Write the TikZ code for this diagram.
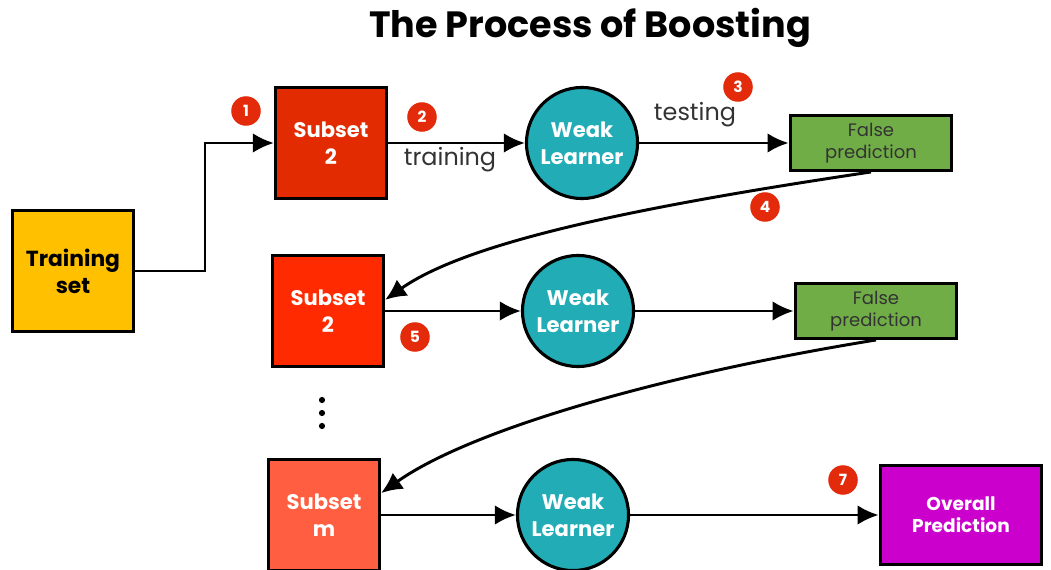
\documentclass[tikz,border=0pt]{standalone}
\usepackage{fontspec}
\setmainfont{Poppins}
\usetikzlibrary{arrows.meta}

\definecolor{setyellow}{HTML}{FFC000}
\definecolor{subred}{HTML}{E22B00}
\definecolor{subbright}{HTML}{FF2A00}
\definecolor{subsalmon}{HTML}{FF5F40}
\definecolor{learnteal}{HTML}{22ACB6}
\definecolor{predgreen}{HTML}{70AD47}
\definecolor{overmagenta}{HTML}{CC00CC}
\definecolor{badgered}{HTML}{E32B0B}

\begin{document}
\begin{tikzpicture}[x=0.025cm,y=-0.025cm,->,>={Latex[length=15pt,width=14pt]},line width=2.1pt,
  box/.style={draw,-,line width=2.2pt,minimum width=79pt,minimum height=79pt,inner sep=0pt,align=center,text=white,font=\bfseries\fontsize{15}{19}\selectfont},
  learner/.style={circle,draw,-,line width=2.2pt,fill=learnteal,minimum size=79pt,inner sep=0pt,align=center,text=white,font=\bfseries\fontsize{15}{19}\selectfont},
  pred/.style={draw,-,line width=2.2pt,fill=predgreen,minimum width=115pt,minimum height=39pt,inner sep=0pt,align=center,text=black!80,font=\fontsize{12.8}{15.5}\selectfont},
  badge/.style={circle,fill=badgered,minimum size=21pt,inner sep=0pt,text=white,font=\bfseries\fontsize{11}{11}\selectfont},
  lbl/.style={text=black!80,font=\fontsize{17}{19}\selectfont}]

\useasboundingbox (0,0) rectangle (1051,570);

\node (title) at (590,28) {\bfseries\fontsize{26}{30}\selectfont The Process of Boosting};

\node [box,fill=setyellow,text=black,minimum width=86pt,minimum height=86pt,font=\bfseries\fontsize{15.5}{19}\selectfont] (train) at (73,271) {Training\\set};

\node [box,fill=subred] (sub1) at (331,143) {Subset\\2};
\node [learner] (wl1) at (582,143) {Weak\\Learner};
\node [pred] (fp1) at (871,143) {False\\prediction};

\node [box,fill=subbright] (sub2) at (328,311) {Subset\\2};
\node [learner] (wl2) at (578,311) {Weak\\Learner};
\node [pred] (fp2) at (876,311) {False\\prediction};

\node [box,fill=subsalmon] (subm) at (324,515) {Subset\\m};
\node [learner] (wl3) at (573,515) {Weak\\Learner};
\node [box,fill=overmagenta,minimum width=115pt,minimum height=71pt,font=\bfseries\fontsize{13.2}{15.5}\selectfont] (over) at (961,515) {Overall\\Prediction};

\node [lbl] (train lbl) at (450,160) {training};
\node [lbl] (test lbl) at (695,115) {testing};

\node [badge] (b1) at (246,111) {1};
\node [badge] (b2) at (422,117) {2};
\node [badge] (b3) at (738,87) {3};
\node [badge] (b4) at (765,207) {4};
\node [badge] (b5) at (415,337) {5};
\node [badge] (b7) at (843,480) {7};

\foreach \y in {400,413,426}
  \fill (322,\y) circle (2.2pt);

\coordinate (bend) at (205,0);

\path [draw]
    (train.east) -| (bend |- sub1.west) -- (sub1.west);
\path [draw]
    (sub1) -- (wl1);
\path [draw]
    (wl1) -- (fp1);
\path [draw]
    (fp1.south) .. controls (650,205) and (470,240) .. (sub2.11);
\path [draw]
    (sub2) -- (wl2);
\path [draw]
    (wl2) -- (fp2);
\path [draw]
    (fp2.south) .. controls (660,375) and (470,430) .. (subm.21);
\path [draw]
    (subm) -- (wl3);
\path [draw]
    (wl3) -- (over);

\end{tikzpicture}
\end{document}
